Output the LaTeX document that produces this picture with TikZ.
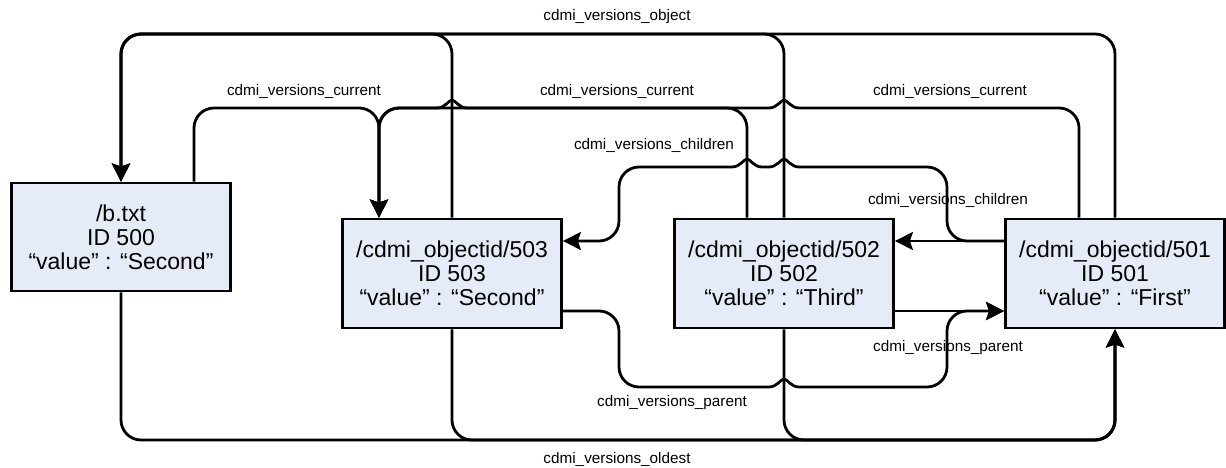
\documentclass[tikz,border=0pt]{standalone}
\usepackage{fontspec}
\setmainfont{Liberation Sans}
\usetikzlibrary{arrows.meta,calc}
\definecolor{boxfill}{RGB}{229,236,247}
% jump over a vertical line at x=#1 on a horizontal at y=#2, going left / right
\newcommand\hopL[2]{.. controls (#1+7,#2) and (#1+3,#2-8) .. (#1,#2-8) .. controls (#1-3,#2-8) and (#1-7,#2) .. (#1-15,#2)}
\newcommand\hopR[2]{.. controls (#1-7,#2) and (#1-3,#2-8) .. (#1,#2-8) .. controls (#1+3,#2-8) and (#1+7,#2) .. (#1+15,#2)}
\begin{document}
\begin{tikzpicture}[x=1pt,y=-1pt,
  objbox/.style={draw, line width=2.8pt, fill=boxfill, minimum width=219pt, minimum height=109pt, inner sep=0pt, align=center, font=\fontsize{23}{24}\selectfont},
  conn/.style={line width=2.8pt, rounded corners=20pt, line join=round},
  hopline/.style={line width=2.8pt, line join=round},
  arr/.style={-{Stealth[length=18pt,width=18pt,inset=3pt]}},
  lbl/.style={font=\fontsize{15.3}{17}\selectfont, inner sep=0pt}]
\useasboundingbox (0,0) rectangle (1226,468);

\node[objbox, minimum height=108pt] (b) at (121,237) {/b.txt\\ID 500\\“value” : “Second”};
\node[objbox] (n503) at (452,273.5) {/cdmi\_objectid/503\\ID 503\\“value” : “Second”};
\node[objbox] (n502) at (784,273.5) {/cdmi\_objectid/502\\ID 502\\“value” : “Third”};
\node[objbox] (n501) at (1115,273.5) {/cdmi\_objectid/501\\ID 501\\“value” : “First”};

% cdmi_versions_object
\draw[conn,arr] (n503.north) -- (452,34) -- (121,34) -- (b.north);
\draw[conn,arr] (n502.north) -- (784,34) -- (121,34) -- (b.north);
\draw[conn,arr] (n501.north) -- (1115,34) -- (121,34) -- (b.north);

% cdmi_versions_current
\draw[conn,arr] ($(b.north)+(73,0)$) -- (194,108) -- (379,108) -- ($(n503.north)+(-73,0)$);
\draw[conn,arr] ($(n502.north)+(-37,0)$) -- (747,108) -- (379,108) -- ($(n503.north)+(-73,0)$);
\draw[conn] ($(n501.north)+(-36,0)$) -- (1079,108) -- (799,108);
\draw[hopline] (799,108) \hopL{784}{108} -- (467,108) \hopL{452}{108};
\draw[conn,arr] (437,108) -- (379,108) -- ($(n503.north)+(-73,0)$);

% cdmi_versions_children
\draw[conn,arr] ($(n501.west)+(0,-32.5)$) -- ($(n502.east)+(0,-32.5)$);
\draw[conn] ($(n501.west)+(0,-32.5)$) -- (947,241) -- (947,167) -- (799,167);
\draw[hopline] (799,167) \hopL{784}{167} -- (762,167) \hopL{747}{167};
\draw[conn,arr] (732,167) -- (619,167) -- (619,241) -- ($(n503.east)+(0,-32.5)$);

% cdmi_versions_parent
\draw[conn,arr] ($(n502.east)+(0,37.5)$) -- ($(n501.west)+(0,37.5)$);
\draw[conn] ($(n503.east)+(0,37.5)$) -- (619,311) -- (619,387) -- (769,387);
\draw[hopline] (769,387) \hopR{784}{387};
\draw[conn,arr] (799,387) -- (947,387) -- (947,311) -- ($(n501.west)+(0,37.5)$);

% cdmi_versions_oldest
\draw[conn,arr] (b.south) -- (121,440) -- (1115,440) -- (n501.south);
\draw[conn,arr] (n503.south) -- (452,440) -- (1115,440) -- (n501.south);
\draw[conn,arr] (n502.south) -- (784,440) -- (1115,440) -- (n501.south);

% labels
\node[lbl] (lobj) at (617,17) {cdmi\_versions\_object};
\node[lbl] (lcur1) at (304,91) {cdmi\_versions\_current};
\node[lbl] (lcur2) at (617,91) {cdmi\_versions\_current};
\node[lbl] (lcur3) at (950,91) {cdmi\_versions\_current};
\node[lbl] (lch1) at (654,145) {cdmi\_versions\_children};
\node[lbl] (lch2) at (948,200) {cdmi\_versions\_children};
\node[lbl] (lpar1) at (672,403) {cdmi\_versions\_parent};
\node[lbl] (lpar2) at (948,348) {cdmi\_versions\_parent};
\node[lbl] (lold) at (617,459) {cdmi\_versions\_oldest};
\end{tikzpicture}
\end{document}
